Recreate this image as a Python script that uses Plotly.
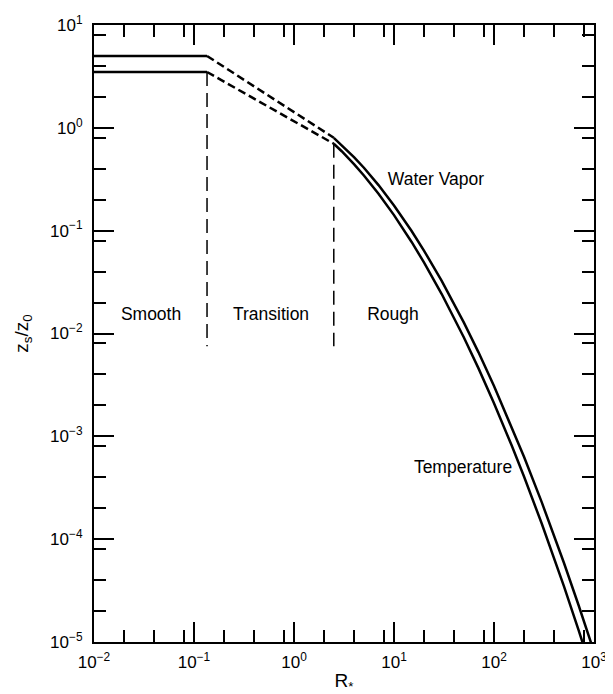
import plotly.graph_objects as go

# ---- data ----
smooth_x = [0.01, 0.135]
smooth_T = [3.49, 3.49]
smooth_V = [5.0, 5.0]

trans_x = [0.135, 2.5]
trans_T = [3.49, 0.70]
trans_V = [5.0, 0.80]

rough_x = [2.5, 3, 4, 5, 7, 10, 15, 20, 30, 50, 70, 100, 150, 200, 300, 400, 500, 700, 850, 1000]
rough_T = [0.70, 0.592, 0.441, 0.344, 0.229, 0.1417, 0.0777, 0.0489, 0.0242, 0.00915, 0.00458,
           0.00210, 0.000818, 0.000404, 0.000142, 6.52e-5, 3.49e-5, 1.31e-5, 7.36e-6, 4.47e-6]
rough_V = [0.80, 0.681, 0.517, 0.409, 0.2775, 0.176, 0.0992, 0.0637, 0.0325, 0.01276, 0.00656,
           0.00309, 0.001245, 0.00063, 0.000229, 1.08e-4, 5.90e-5, 2.29e-5, 1.305e-5, 8.04e-6]

boundary_x = [0.135, 2.5]
boundary_top = [3.49, 0.70]
boundary_bottom = [0.0075, 0.0075]

x_major = [1e-2, 1e-1, 1e0, 1e1, 1e2, 1e3]
x_labels = ["10<sup>−2</sup>", "10<sup>−1</sup>", "10<sup>0</sup>", "10<sup>1</sup>", "10<sup>2</sup>", "10<sup>3</sup>"]
x_minor = [2e-2, 4e-2, 8e-2, 2e-1, 4e-1, 8e-1, 2, 4, 8, 20, 40, 80, 200, 400, 800]

y_major = [1e-5, 1e-4, 1e-3, 1e-2, 1e-1, 1e0, 1e1]
y_labels = ["10<sup>−5</sup>", "10<sup>−4</sup>", "10<sup>−3</sup>", "10<sup>−2</sup>", "10<sup>−1</sup>", "10<sup>0</sup>", "10<sup>1</sup>"]
y_minor = [2e-5, 4e-5, 8e-5, 2e-4, 4e-4, 8e-4, 2e-3, 4e-3, 8e-3, 2e-2, 4e-2, 8e-2, 2e-1, 4e-1, 8e-1, 2, 4, 8]

text_labels = ["Smooth", "Transition", "Rough", "Water Vapor", "Temperature"]
text_x = [0.0372, 0.589, 9.77, 26.3, 49.0]
text_y = [0.0148, 0.0148, 0.0148, 0.304, 0.000481]

FONT = "Liberation Sans, Arial, Helvetica, sans-serif"

fig = go.Figure()

for ys in (smooth_V, smooth_T):
    fig.add_trace(go.Scatter(x=smooth_x, y=ys, mode="lines",
                             line=dict(color="black", width=2.5), showlegend=False))
for ys in (trans_V, trans_T):
    fig.add_trace(go.Scatter(x=trans_x, y=ys, mode="lines",
                             line=dict(color="black", width=2.5, dash="8px,4px"), showlegend=False))
for ys in (rough_V, rough_T):
    fig.add_trace(go.Scatter(x=rough_x, y=ys, mode="lines",
                             line=dict(color="black", width=2.5), showlegend=False))
for bx, bt, bb in zip(boundary_x, boundary_top, boundary_bottom):
    fig.add_trace(go.Scatter(x=[bx, bx], y=[bt, bb], mode="lines",
                             line=dict(color="black", width=1.5, dash="14px,7px"), showlegend=False))

fig.add_trace(go.Scatter(x=text_x, y=text_y, mode="text", text=text_labels,
                         textposition="middle center",
                         textfont=dict(family=FONT, size=17.5, color="black"),
                         showlegend=False, hoverinfo="skip"))

axis_common = dict(
    type="log", showgrid=False, zeroline=False, automargin=False,
    showline=True, linecolor="black", linewidth=2, mirror="allticks",
    ticks="inside", ticklen=20, tickwidth=1.6, tickcolor="black",
    tickfont=dict(family=FONT, size=17, color="black"),
)

fig.update_xaxes(**axis_common, range=[-2, 3], tickvals=x_major, ticktext=x_labels,
                 ticklabelstandoff=4,
                 minor=dict(tickvals=x_minor, ticks="inside", ticklen=12, tickwidth=1.6, tickcolor="black"),
                 title=dict(text="R<sub>*</sub>", font=dict(family=FONT, size=19, color="black"), standoff=2))
fig.update_yaxes(**axis_common, range=[-5, 1], tickvals=y_major, ticktext=y_labels,
                 ticklabelstandoff=6,
                 minor=dict(tickvals=y_minor, ticks="inside", ticklen=12, tickwidth=1.6, tickcolor="black"),
                 title=dict(text="z<sub>s</sub>/z<sub>0</sub>", font=dict(family=FONT, size=19, color="black"), standoff=16))

fig.update_layout(width=613, height=694, margin=dict(l=86, r=27, t=17, b=60),
                  plot_bgcolor="white", paper_bgcolor="white", font=dict(family=FONT))

fig.write_html("out.html")
